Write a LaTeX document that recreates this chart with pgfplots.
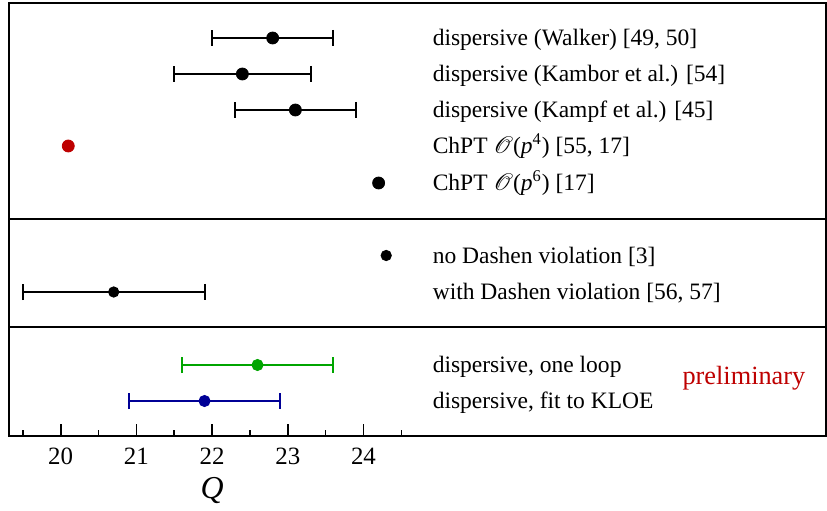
\documentclass[border=0pt]{standalone}
\usepackage{fontspec}
\setmainfont{Liberation Serif}
\usepackage{mathrsfs}
\usepackage{pgfplots}
\pgfplotsset{compat=1.18}
\definecolor{myred}{RGB}{190,0,0}
\definecolor{mygreen}{RGB}{0,165,0}
\definecolor{myblue}{RGB}{0,0,150}
\tikzset{lbl/.style={anchor=base west, inner sep=0pt, font=\fontsize{11.8}{14}\selectfont}}
\begin{document}
\begin{tikzpicture}
\begin{axis}[
  scale only axis, width=408.5bp, height=216.5bp,
  xmin=19.317, xmax=30.11, ymin=4, ymax=437, y dir=reverse,
  axis line style={line width=1bp},
  xtick={20,21,22,23,24}, minor xtick={19.5,20.5,21.5,22.5,23.5,24.5},
  xtick pos=bottom, ytick=\empty,
  tick align=inside,
  major tick length=6bp, minor tick length=3.2bp,
  every tick/.style={line width=0.8bp, black},
  /pgf/number format/assume math mode=true,
  xticklabel style={font=\fontsize{12.5}{14}\selectfont, yshift=-2.3bp},
  xlabel={\fontsize{16}{18}\selectfont\textit{Q}},
  xlabel style={at={(ticklabel cs:0.2486)}, anchor=north, yshift=0.5bp},
  clip=false,
  error bars/error bar style={line width=1bp},
  error bars/error mark=|,
]
% top panel
\addplot[black, only marks, mark=*, mark size=3bp,
  error bars/.cd, x dir=both, x explicit,
  error mark options={black, mark size=4bp, line width=1bp}]
  coordinates {(22.8,39) +- (0.8,0) (22.4,75) +- (0.9,0) (23.1,111) +- (0.8,0)};
\addplot[myred, only marks, mark=*, mark size=3bp] coordinates {(20.1,147)};
\addplot[black, only marks, mark=*, mark size=3bp] coordinates {(24.2,184)};
% middle panel
\addplot[black, only marks, mark=*, mark size=2.6bp] coordinates {(24.3,256.5)};
\addplot[black, only marks, mark=*, mark size=2.6bp,
  error bars/.cd, x dir=both, x explicit,
  error mark options={black, mark size=4bp, line width=1bp}]
  coordinates {(20.7,293) +- (1.2,0)};
% bottom panel
\addplot[mygreen, only marks, mark=*, mark size=2.8bp,
  error bars/.cd, x dir=both, x explicit,
  error bar style={mygreen}, error mark options={mygreen, mark size=4bp, line width=1bp}]
  coordinates {(22.6,366) +- (1.0,0)};
\addplot[myblue, only marks, mark=*, mark size=2.8bp,
  error bars/.cd, x dir=both, x explicit,
  error bar style={myblue}, error mark options={myblue, mark size=4bp, line width=1bp}]
  coordinates {(21.9,402) +- (1.0,0)};
% separators
\draw[line width=0.7bp] (axis cs:19.317,220) -- (axis cs:30.11,220);
\draw[line width=0.7bp] (axis cs:19.317,328) -- (axis cs:30.11,328);
% labels
\node[lbl] at (axis cs:24.91,46.5) {dispersive (Walker) [49, 50]};
\node[lbl] at (axis cs:24.91,82.5) {dispersive (Kambor et al.) [54]};
\node[lbl] at (axis cs:24.91,118.5) {dispersive (Kampf et al.) [45]};
\node[lbl] at (axis cs:24.91,154.5) {ChPT \(\mathscr{O}\)(\textit{p}\textsuperscript{4}) [55, 17]};
\node[lbl] at (axis cs:24.91,191) {ChPT \(\mathscr{O}\)(\textit{p}\textsuperscript{6}) [17]};
\node[lbl] at (axis cs:24.91,264) {no Dashen violation [3]};
\node[lbl] at (axis cs:24.91,300.5) {with Dashen violation [56, 57]};
\node[lbl] at (axis cs:24.91,373.5) {dispersive, one loop};
\node[lbl] at (axis cs:24.91,409.5) {dispersive, fit to KLOE};
\node[lbl, font=\fontsize{13.2}{15}\selectfont, text=myred] at (axis cs:28.21,385) {preliminary};
\end{axis}
\path ([xshift=-4.5bp]current axis.west);
\path ([yshift=1.5bp]current axis.north);
\end{tikzpicture}
\end{document}
